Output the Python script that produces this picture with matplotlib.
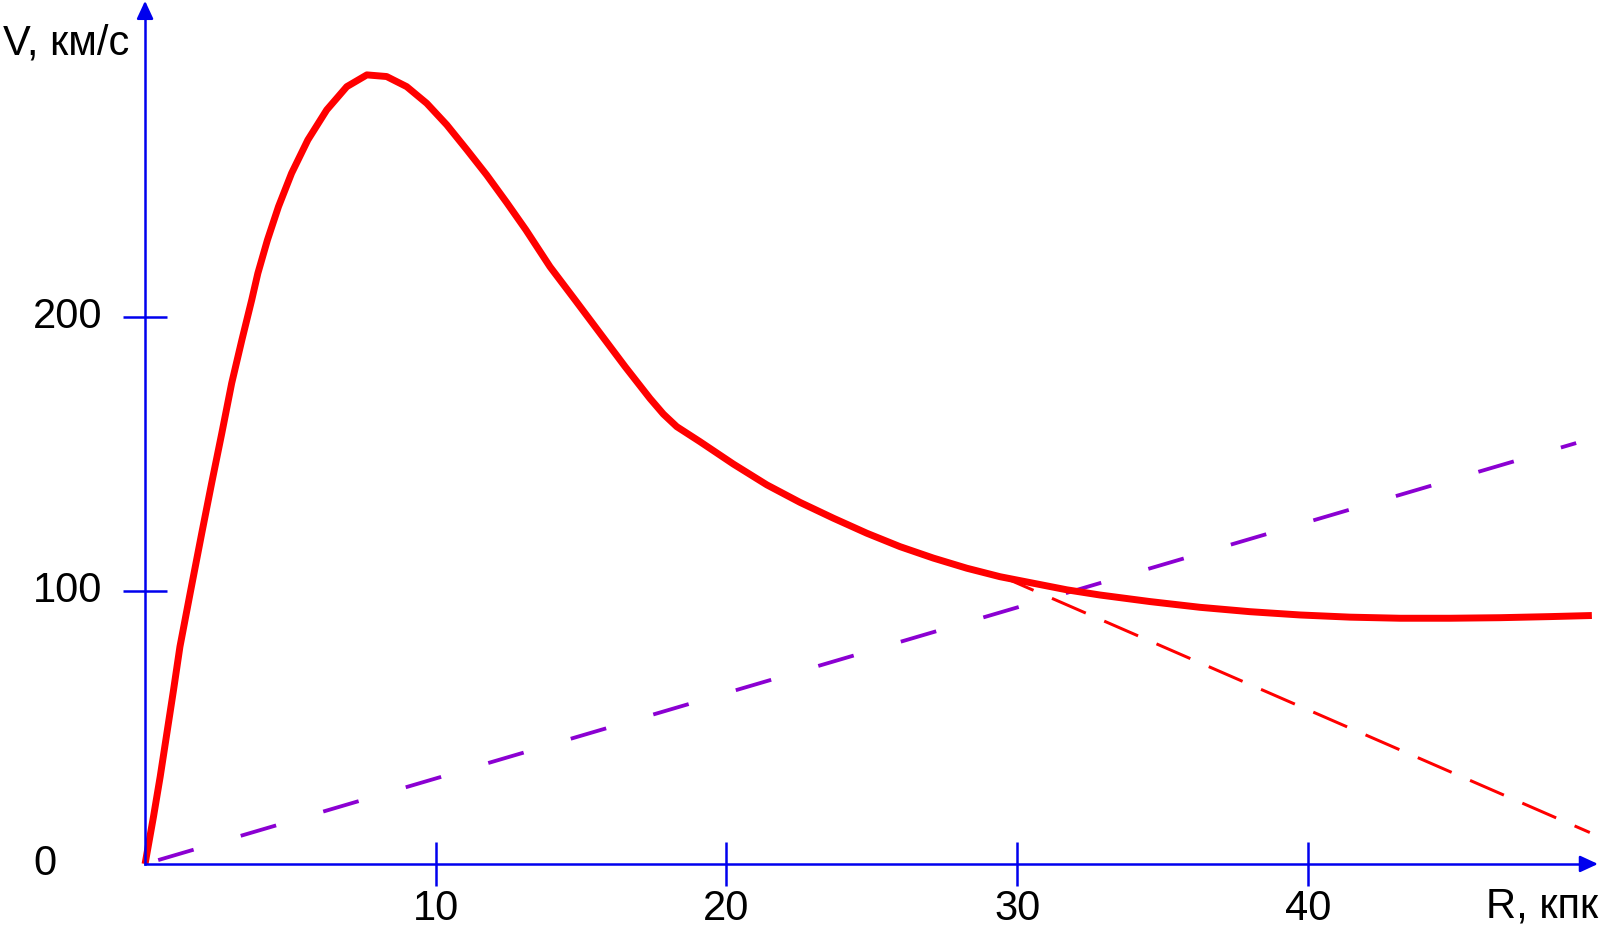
import numpy as np
import matplotlib
matplotlib.use("Agg")
import matplotlib.pyplot as plt

plt.rcParams["font.family"] = ["Liberation Sans", "DejaVu Sans"]

# rotation curve (R in kpc, V in km/s)
r_total = [0, 0.29, 0.52, 0.75, 0.98, 1.20, 1.55, 1.95, 2.29, 2.64,
           2.98, 3.33, 3.67, 3.88, 4.21, 4.59, 5.04, 5.60, 6.25, 6.94,
           7.63, 8.31, 9.00, 9.69, 10.38, 11.07, 11.75, 12.44, 13.10, 13.93,
           14.79, 15.65, 16.51, 17.37, 17.83, 18.29, 19.09, 20.24, 21.39, 22.53,
           23.68, 24.83, 25.97, 27.12, 28.27, 29.41, 30.56, 31.71, 32.85, 34.57,
           36.29, 38.01, 39.73, 41.45, 43.17, 44.89, 46.61, 48.33, 49.77]
v_total = [0, 17.3, 31.9, 47.8, 63.7, 79.5, 99.0, 121.0, 139.3, 157.6,
           175.9, 191.7, 206.4, 216.1, 228.3, 240.5, 252.7, 264.9, 275.9, 284.4,
           288.7, 288.1, 284.4, 278.3, 270.4, 261.3, 252.1, 242.0, 232.0, 218.5,
           206.4, 194.2, 182.0, 170.3, 164.6, 160.0, 154.5, 146.3, 138.7, 132.3,
           126.5, 121.0, 116.1, 111.9, 108.2, 105.1, 102.7, 100.3, 98.4, 96.0,
           93.9, 92.3, 91.1, 90.3, 89.9, 89.9, 90.1, 90.5, 90.9]

# straight dashed lines
r_rising = [0, 49.23]
v_rising = [0, 154.0]
r_falling = [29.4, 49.7]
v_falling = [105.5, 11.5]

x_ticks = [10, 20, 30, 40]
y_ticks = [100, 200]
y_labels = [0, 100, 200]

blue = "#0000EE"
purple = "#8B00D2"
axis_lw = 1.8

fig = plt.figure(figsize=(16, 9.26), dpi=100)
ax = fig.add_axes([0, 0, 1, 1])
ax.set_xlim(-4.99, 50.05)
ax.set_ylim(-22.7, 316.1)

# axes through the origin, ending in arrow heads
for side in ["top", "right"]:
	ax.spines[side].set_visible(False)
for side in ["left", "bottom"]:
	ax.spines[side].set_position(("data", 0))
	ax.spines[side].set_color(blue)
	ax.spines[side].set_linewidth(axis_lw)
ax.spines["left"].set_bounds(0, 310.5)
ax.spines["bottom"].set_bounds(0, 49.5)

arrow = dict(arrowstyle="-|>,head_length=0.54,head_width=0.25", mutation_scale=20,
             color=blue, lw=axis_lw, shrinkA=0, shrinkB=0)
ax.annotate("", xy=(49.98, 0), xytext=(49.4, 0), arrowprops=arrow)
ax.annotate("", xy=(0, 315.8), xytext=(0, 310), arrowprops=arrow)

ax.set_xticks(x_ticks)
ax.set_xticklabels([str(t) for t in x_ticks])
ax.set_yticks(y_ticks)
ax.set_yticklabels([])
ax.tick_params(direction="inout", length=32, width=axis_lw, color=blue, labelsize=30, pad=2)

for v in y_labels:
	ax.text(-3.85, v, str(v), ha="left", va="center", fontsize=30)

ax.text(-4.885, 296.0, "V, км/с", ha="left", va="baseline", fontsize=30)
ax.text(49.98, -19.76, "R, кпк", ha="right", va="baseline", fontsize=30)

ax.plot(r_rising, v_rising, color=purple, lw=2.74, linestyle=(19.0, (9.7, 12.9)))
ax.plot(r_falling, v_falling, color="red", lw=2.16, linestyle=(0, (12.3, 6.7)))
ax.plot(r_total, v_total, color="red", lw=5.0, solid_capstyle="butt", solid_joinstyle="round")

fig.savefig("out.png", dpi=100)
